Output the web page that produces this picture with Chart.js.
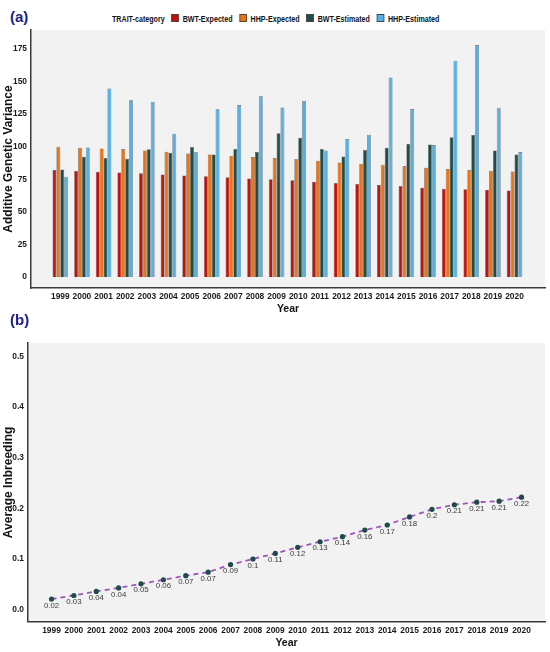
<!DOCTYPE html>
<html>
<head>
<meta charset="utf-8">
<script src="https://cdn.jsdelivr.net/npm/chart.js@4.4.1/dist/chart.umd.min.js"></script>
<style>
body { margin: 0; background: #fff; }
#page { position: relative; width: 550px; height: 652px; overflow: hidden; font-family: "Liberation Sans", Arial, sans-serif; }
.tag { position: absolute; left: 10px; font-weight: bold; font-size: 15px; color: #1c1c8c; }
#legend { position: absolute; left: 112px; top: 12px; height: 12px; display: flex; align-items: center; white-space: nowrap;
  font-family: "Liberation Sans", Arial, sans-serif; font-weight: bold; font-size: 9.5px; color: #111;
  transform: scaleX(0.75); transform-origin: 0 50%; }
#legend .box { display: inline-block; width: 8px; height: 6px; border: 0.5px solid #444; margin: 0 5px 0 9px; }
canvas { position: absolute; left: 0; }
</style>
</head>
<body>
<div id="page">
  <div class="tag" style="top:8px">(a)</div>
  <div id="legend"><span>TRAIT-category</span></div>
  <canvas id="varianceChart" style="top:0"></canvas>
  <div class="tag" style="top:311px">(b)</div>
  <canvas id="inbreedingChart" style="top:320px"></canvas>
</div>
<script>
// data
var years = [1999, 2000, 2001, 2002, 2003, 2004, 2005, 2006, 2007, 2008, 2009, 2010,
             2011, 2012, 2013, 2014, 2015, 2016, 2017, 2018, 2019, 2020];
var bwtExpected = [82.1, 81.4, 80.8, 80.3, 79.6, 78.8, 78.0, 77.3, 76.5, 75.7, 75.0, 74.2,
                   73.2, 72.1, 71.4, 70.6, 69.8, 68.6, 67.8, 67.3, 67.0, 66.5];
var hhpExpected = [100.0, 99.3, 98.7, 98.2, 97.2, 96.2, 94.9, 94.1, 93.1, 92.1, 91.3, 90.6,
                   89.3, 88.0, 87.0, 86.2, 85.2, 83.9, 82.9, 82.1, 81.6, 81.1];
var bwtEstimated = [82.6, 92.4, 91.3, 90.8, 98.0, 95.4, 99.8, 94.1, 98.2, 95.9, 110.3, 106.9,
                    98.2, 92.6, 97.5, 99.3, 102.3, 101.8, 107.2, 109.0, 97.2, 94.1];
var hhpEstimated = [77.0, 99.5, 144.8, 135.6, 134.6, 110.0, 95.7, 128.7, 132.0, 138.7, 130.2, 135.1,
                    97.2, 105.9, 109.2, 153.2, 128.9, 101.3, 166.0, 178.0, 130.0, 95.9];
var seriesNames = ["BWT-Expected", "HHP-Expected", "BWT-Estimated", "HHP-Estimated"];
var seriesColors = ["#c2120c", "#ee7412", "#1f4e4a", "#55b1e6"];
var varianceTicks = [0, 25, 50, 75, 100, 125, 150, 175];

var inbreeding = [0.021, 0.028, 0.036, 0.043, 0.051, 0.059, 0.067, 0.074, 0.089, 0.1, 0.111, 0.123,
                  0.134, 0.144, 0.157, 0.167, 0.183, 0.198, 0.207, 0.212, 0.214, 0.222];
var inbreedingTicks = [0, 0.1, 0.2, 0.3, 0.4, 0.5];

var sans = "'Liberation Sans', Arial, sans-serif";

// gray panel behind the plot area
var panelBackground = {
    id: "panelBackground",
    beforeDraw: function (chart) {
        var a = chart.chartArea;
        var ctx = chart.ctx;
        ctx.save();
        ctx.fillStyle = "#f2f2f2";
        ctx.fillRect(a.left, a.top, a.right - a.left, a.bottom - a.top);
        ctx.restore();
    }
};

// value labels under the inbreeding points
var pointLabels = {
    id: "pointLabels",
    afterDatasetsDraw: function (chart) {
        var ctx = chart.ctx;
        var meta = chart.getDatasetMeta(0);
        ctx.save();
        ctx.font = "7.8px " + sans;
        ctx.fillStyle = "#3a3a3a";
        ctx.textAlign = "center";
        ctx.textBaseline = "middle";
        meta.data.forEach(function (pt, i) {
            ctx.fillText(String(Number(inbreeding[i].toFixed(2))), pt.x, pt.y + 6.5);
        });
        ctx.restore();
    }
};

function toPoints(values) {
    return years.map(function (yr, i) { return { x: yr, y: values[i] }; });
}

function yearAxis(min, max, height, titlePad) {
    return {
        type: "linear", min: min, max: max, offset: false,
        afterBuildTicks: function (s) { s.ticks = years.map(function (v) { return { value: v }; }); },
        afterFit: function (s) { s.height = height; },
        grid: { display: false, drawTicks: false },
        border: { display: true, color: "#3a3a3a", width: 1.5 },
        ticks: { autoSkip: false, maxRotation: 0, padding: 4, color: "#1a1a1a",
                 font: { family: sans, size: 8.4, weight: "bold" },
                 callback: function (v) { return String(v); } },
        title: { display: true, text: "Year", color: "#111", padding: { top: 0, bottom: titlePad },
                 font: { family: sans, size: 10.5, weight: "bold" } }
    };
}

// legend row
var legend = document.getElementById("legend");
seriesNames.forEach(function (name, i) {
    var box = document.createElement("span");
    box.className = "box";
    box.style.background = seriesColors[i];
    var txt = document.createElement("span");
    txt.textContent = name;
    legend.appendChild(box);
    legend.appendChild(txt);
});

var seriesValues = [bwtExpected, hhpExpected, bwtEstimated, hhpEstimated];

var topCanvas = document.getElementById("varianceChart");
topCanvas.width = 550; topCanvas.height = 320;
topCanvas.style.width = "550px"; topCanvas.style.height = "320px";

new Chart(topCanvas, {
    type: "bar",
    data: {
        datasets: seriesNames.map(function (name, i) {
            return {
                label: name,
                data: toPoints(seriesValues[i]),
                backgroundColor: seriesColors[i],
                borderColor: "rgba(70,70,70,0.85)",
                borderWidth: 0.6,
                categoryPercentage: 0.72,
                barPercentage: 1
            };
        })
    },
    options: {
        responsive: false,
        animation: false,
        layout: { padding: { top: 30, right: 5, left: 0, bottom: 0 } },
        plugins: { legend: { display: false }, tooltip: { enabled: false } },
        scales: {
            x: yearAxis(1997.645, 2021.41, 32, 5),
            y: {
                min: -8.4, max: 189.6,
                afterBuildTicks: function (s) { s.ticks = varianceTicks.map(function (v) { return { value: v }; }); },
                afterFit: function (s) { s.width = 31; },
                grid: { display: false, drawTicks: false },
                border: { display: true, color: "#3a3a3a", width: 1.5 },
                ticks: { padding: 4, color: "#1a1a1a", font: { family: sans, size: 8.4, weight: "bold" } },
                title: { display: true, text: "Additive Genetic Variance", color: "#111",
                         padding: { top: 1, bottom: 0 }, font: { family: sans, size: 12, weight: "bold" } }
            }
        }
    },
    plugins: [panelBackground]
});

var botCanvas = document.getElementById("inbreedingChart");
botCanvas.width = 550; botCanvas.height = 332;
botCanvas.style.width = "550px"; botCanvas.style.height = "332px";

new Chart(botCanvas, {
    type: "line",
    data: {
        datasets: [{
            label: "Average Inbreeding",
            data: toPoints(inbreeding),
            borderColor: "#a052bd",
            borderWidth: 1.8,
            borderDash: [5, 4],
            tension: 0,
            pointRadius: 2.6,
            pointBackgroundColor: "#1d4b47",
            pointBorderWidth: 0
        }]
    },
    options: {
        responsive: false,
        animation: false,
        layout: { padding: { top: 23, right: 5, left: 0, bottom: 0 } },
        plugins: { legend: { display: false }, tooltip: { enabled: false } },
        scales: {
            x: yearAxis(1997.95, 2021.05, 30.3, 3),
            y: {
                min: -0.0237, max: 0.526,
                afterBuildTicks: function (s) { s.ticks = inbreedingTicks.map(function (v) { return { value: v }; }); },
                afterFit: function (s) { s.width = 28; },
                grid: { display: false, drawTicks: false },
                border: { display: true, color: "#3a3a3a", width: 1.5 },
                ticks: { padding: 4, color: "#1a1a1a", font: { family: sans, size: 8.4, weight: "bold" },
                         callback: function (v) { return v.toFixed(1); } },
                title: { display: true, text: "Average Inbreeding", color: "#111",
                         padding: { top: 1, bottom: 0 }, font: { family: sans, size: 12, weight: "bold" } }
            }
        }
    },
    plugins: [panelBackground, pointLabels]
});
</script>
</body>
</html>
